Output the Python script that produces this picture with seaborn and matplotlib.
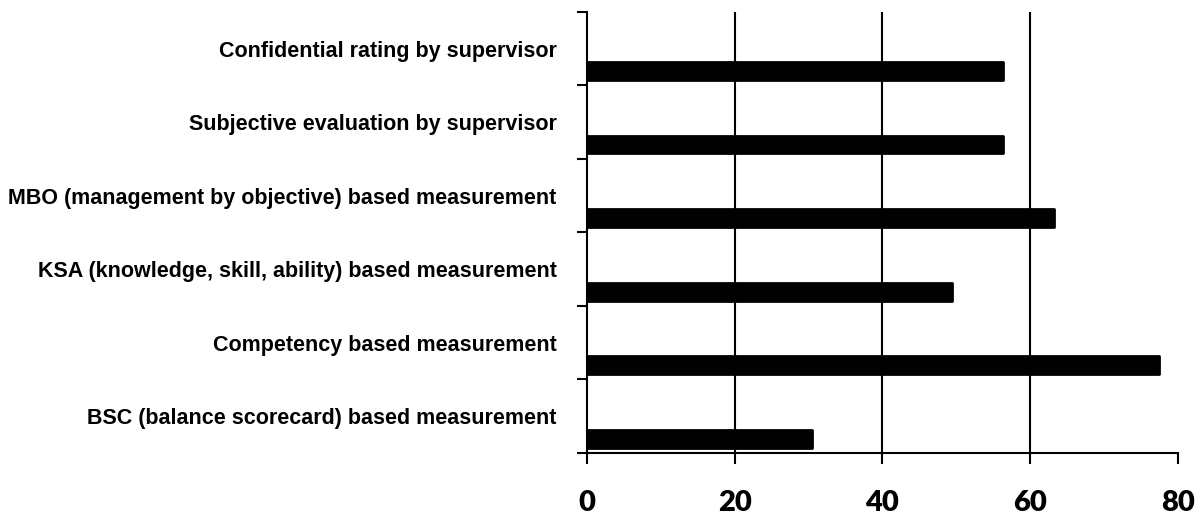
import numpy as np
import pandas as pd
import matplotlib
matplotlib.use("Agg")
import matplotlib.pyplot as plt
import seaborn as sns

# categories top to bottom
categories = [
    "Confidential rating by supervisor",
    "Subjective evaluation by supervisor",
    "MBO (management by objective) based measurement",
    "KSA (knowledge, skill, ability) based measurement",
    "Competency based measurement",
    "BSC (balance scorecard) based measurement",
]
values = [56.4, 56.4, 63.3, 49.4, 77.4, 30.4]
x_ticks = [0, 20, 40, 60, 80]

# excel-style: an empty series sits above the real one in each band
df = pd.DataFrame({
    "category": categories * 2,
    "value": [np.nan] * len(categories) + values,
    "series": ["blank"] * len(categories) + ["value"] * len(categories),
})

sns.set_style("white")
fig = plt.figure(figsize=(12.03, 5.18), dpi=100)
ax = fig.add_axes([0.488, 0.1255, 0.491, 0.8515])

sns.barplot(data=df, y="category", x="value", hue="series",
            hue_order=["blank", "value"], order=categories,
            palette={"blank": "black", "value": "black"},
            width=1.224, gap=0.608, orient="h", legend=False, ax=ax,
            edgecolor="black", linewidth=2)
for p in ax.patches:
    p.set_joinstyle("round")

ax.set_xlim(0, 80)
ax.set_ylim(len(categories) - 0.5, -0.5)
ax.set_xlabel("")
ax.set_ylabel("")

# ticks at band boundaries, labels at band centers
ax.set_yticks(np.arange(-0.5, len(categories)), labels=[])
ax.set_yticks(range(len(categories)), labels=categories, minor=True)
ax.tick_params(axis="y", which="major", left=True, length=7, width=1.5,
               color="black", direction="out")
ax.tick_params(axis="y", which="minor", left=False, length=0, pad=22)
for t in ax.get_yticklabels(minor=True):
    t.set_family(["Liberation Sans Narrow", "Liberation Sans", "DejaVu Sans"])
    t.set_fontweight("bold")
    t.set_fontsize(15.5)
    t.set_color("black")
    t.set_va("center_baseline")

ax.set_xticks(x_ticks, labels=[str(v) for v in x_ticks])
ax.tick_params(axis="x", bottom=True, length=8, width=1.5, color="black",
               direction="out", pad=19)
for t in ax.get_xticklabels():
    t.set_family(["Lato", "DejaVu Sans"])
    t.set_fontweight("heavy")
    t.set_fontsize(21)
    t.set_color("black")

ax.xaxis.grid(True, color="black", linewidth=1.5)
ax.get_xgridlines()[-1].set_visible(False)
ax.get_xgridlines()[0].set_visible(False)
ax.set_axisbelow(True)

for s in ["top", "right"]:
    ax.spines[s].set_visible(False)
for s in ["left", "bottom"]:
    ax.spines[s].set_color("black")
    ax.spines[s].set_linewidth(1.5)

fig.savefig("out.png", dpi=100)
